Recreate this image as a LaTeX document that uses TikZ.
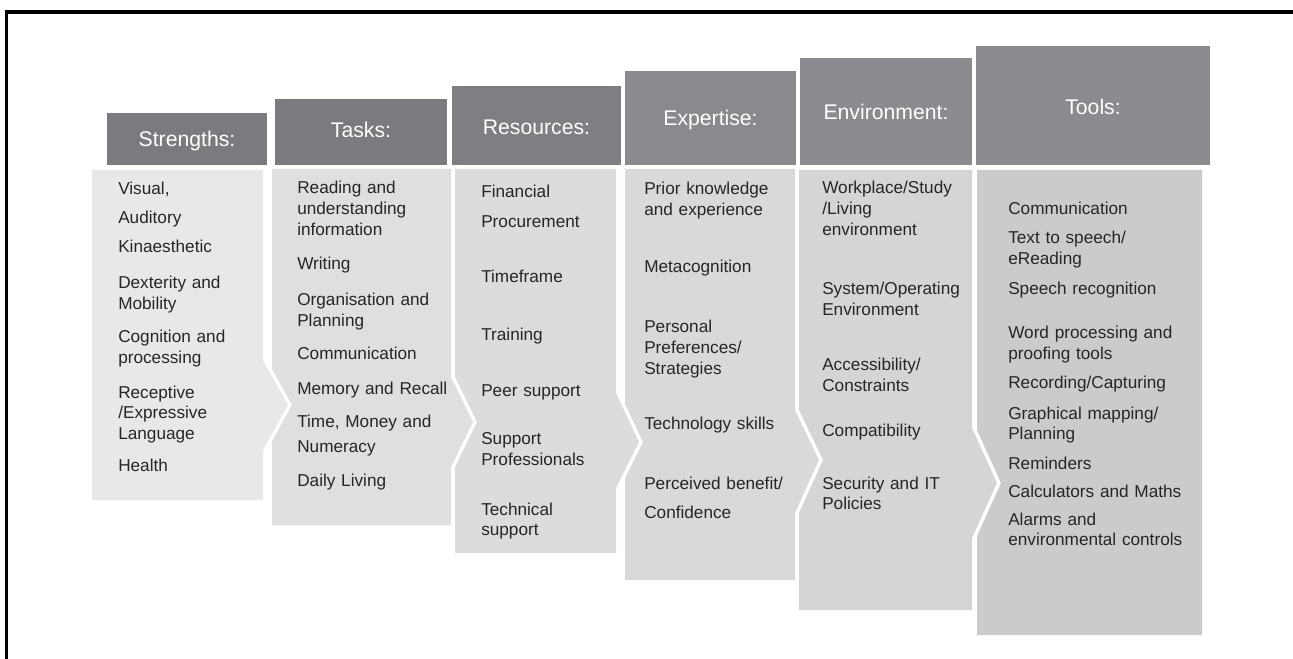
\documentclass[tikz,border=0pt]{standalone}
\usepackage{fontspec}
\setmainfont{Liberation Sans}
\usepackage{tikz}
\usetikzlibrary{positioning}
\usepackage{xcolor}

\definecolor{headS}{HTML}{7A7B7F}
\definecolor{headT}{HTML}{7A7B7F}
\definecolor{headR}{HTML}{7E7F83}
\definecolor{headE}{HTML}{898A8E}
\definecolor{headV}{HTML}{8A8B8F}
\definecolor{headL}{HTML}{8A8B8F}
\definecolor{bodyS}{HTML}{E7E8E9}
\definecolor{bodyT}{HTML}{DEDFE1}
\definecolor{bodyR}{HTML}{DBDCDE}
\definecolor{bodyE}{HTML}{D8D9DB}
\definecolor{bodyV}{HTML}{D4D5D7}
\definecolor{bodyL}{HTML}{CACBCD}
\definecolor{itemtext}{HTML}{262626}

\tikzset{
  headtext/.style={anchor=base, inner sep=0pt, text=white, font=\fontsize{15.9}{19}\selectfont},
  item/.style={anchor=base west, inner sep=0pt, text=itemtext, align=left, text width=150pt,
    font=\fontsize{12.9}{15.4}\selectfont},
}

\begin{document}
\begin{tikzpicture}[x=0.75pt, y=-0.75pt]
      \useasboundingbox (0,0) rectangle (1293,659);
      \draw [line width=2.6pt] (6.5,659) -- (6.5,12) -- (1293,12);

      % Strengths
      \fill [headS] (107,113) rectangle (267,165);
      \node [headtext] (strengths) at (187,146.6) {Strengths:};
      \fill [bodyS] (92,170) -- (263,170) -- (263,360) -- (288,405) -- (263,450)
        -- (263,500) -- (92,500) -- cycle;
      \node [item] (s1) at (118,195) {Visual,};
      \node [item] (s2) at (118,224) {Auditory};
      \node [item] (s3) at (118,253) {Kinaesthetic};
      \node [item] (s4) at (118,289) {Dexterity and\\Mobility};
      \node [item] (s5) at (118,343) {Cognition and\\processing};
      \node [item] (s6) at (118,398) {Receptive\\/Expressive\\Language};
      \node [item] (s7) at (118,471) {Health};

      % Tasks
      \fill [headT] (275,99) rectangle (447,165);
      \node [headtext] (tasks) at (361,137.6) {Tasks:};
      \fill [bodyT] (272,169) -- (451,169) -- (451,377) -- (473,422) -- (451,467)
        -- (451,525) -- (272,525) -- (272,441) -- (292,405) -- (272,369) -- cycle;
      \node [item] (t1) at (297,194) {Reading and\\understanding\\information};
      \node [item] (t2) at (297,270) {Writing};
      \node [item] (t3) at (297,306) {Organisation and\\Planning};
      \node [item] (t4) at (297,360) {Communication};
      \node [item] (t5) at (297,394) {Memory and Recall};
      \node [item] (t6) at (297,427) {Time, Money and\\[4pt]Numeracy};
      \node [item] (t7) at (297,486) {Daily Living};

      % Resources
      \fill [headR] (452,86) rectangle (621,165);
      \node [headtext] (resources) at (536.5,134.6) {Resources:};
      \fill [bodyR] (455,169) -- (616,169) -- (616,393) -- (639,442) -- (616,488)
        -- (616,553) -- (455,553) -- (455,467) -- (477,422) -- (455,377) -- cycle;
      \node [item] (r1) at (481,198) {Financial\\[6.4pt]Procurement};
      \node [item] (r2) at (481,283) {Timeframe};
      \node [item] (r3) at (481,341) {Training};
      \node [item] (r4) at (481,397) {Peer support};
      \node [item] (r5) at (481,445) {Support\\Professionals};
      \node [item] (r6) at (481,515) {Technical\\support};

      % Expertise
      \fill [headE] (625,71) rectangle (796,165);
      \node [headtext] (expertise) at (710.5,125.6) {Expertise:};
      \fill [bodyE] (625,169) -- (795,169) -- (795,410) -- (819,460) -- (795,513)
        -- (795,580) -- (625,580) -- (625,478) -- (643,442) -- (625,404) -- cycle;
      \node [item] (e1) at (644,195) {Prior knowledge\\and experience};
      \node [item] (e2) at (644,273) {Metacognition};
      \node [item] (e3) at (644,333) {Personal\\Preferences/\\Strategies};
      \node [item] (e4) at (644,430) {Technology skills};
      \node [item] (e5) at (644,489) {Perceived benefit/\\[7pt]Confidence};

      % Environment
      \fill [headV] (800,58) rectangle (972,165);
      \node [headtext] (environment) at (886,119.6) {Environment:};
      \fill [bodyV] (799,170) -- (972,170) -- (972,428) -- (997,483) -- (972,538)
        -- (972,610) -- (799,610) -- (799,513) -- (823,460) -- (799,410) -- cycle;
      \node [item] (v1) at (822,194) {Workplace/Study\\/Living\\environment};
      \node [item] (v2) at (822,295) {System/Operating\\Environment};
      \node [item] (v3) at (822,371) {Accessibility/\\Constraints};
      \node [item] (v4) at (822,436) {Compatibility};
      \node [item] (v5) at (822,489) {Security and IT\\Policies};

      % Tools
      \fill [headL] (976,46) rectangle (1210,165);
      \node [headtext] (tools) at (1093,114.6) {Tools:};
      \fill [bodyL] (977,170) -- (1202,170) -- (1202,635) -- (977,635) -- (977,536)
        -- (1001,483) -- (977,430) -- cycle;
      \node [item] (l1) at (1008,215) {Communication};
      \node [item] (l2) at (1008,244) {Text to speech/\\eReading};
      \node [item] (l3) at (1008,295) {Speech recognition};
      \node [item] (l4) at (1008,339) {Word processing and\\proofing tools};
      \node [item] (l5) at (1008,388) {Recording/Capturing};
      \node [item] (l6) at (1008,419) {Graphical mapping/\\Planning};
      \node [item] (l7) at (1008,469) {Reminders};
      \node [item] (l8) at (1008,497) {Calculators and Maths};
      \node [item] (l9) at (1008,525) {Alarms and\\environmental controls};
\end{tikzpicture}
\end{document}
